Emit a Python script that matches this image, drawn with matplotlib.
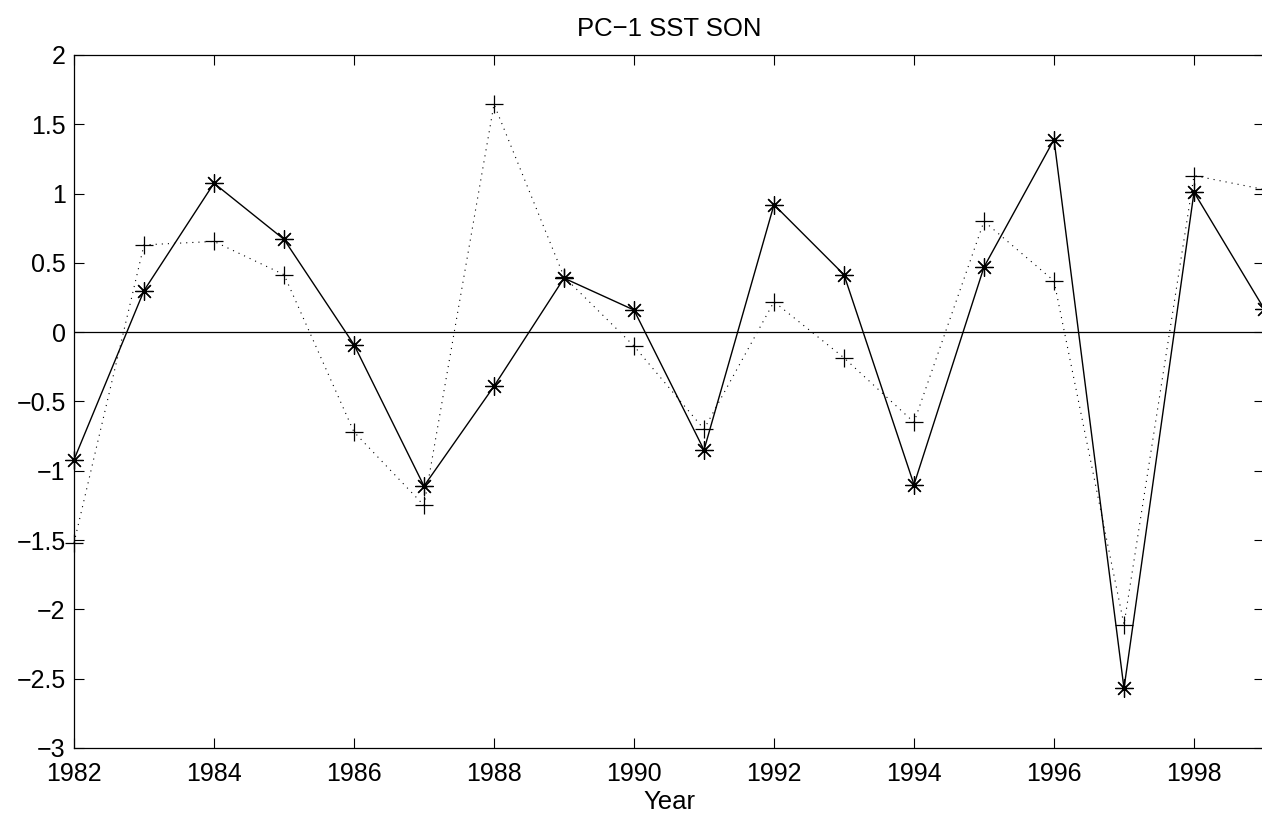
import matplotlib
matplotlib.use("Agg")
import matplotlib.pyplot as plt
import numpy as np

plt.rcParams['font.family'] = ['Liberation Sans', 'DejaVu Sans']

# values
years = np.arange(1982, 2000)
pc_solid = [-0.92, 0.30, 1.075, 0.67, -0.09, -1.11, -0.39, 0.39, 0.16,
            -0.85, 0.92, 0.415, -1.10, 0.47, 1.39, -2.57, 1.01, 0.17]
pc_dotted = [-1.52, 0.63, 0.655, 0.415, -0.72, -1.25, 1.645, 0.40, -0.10,
             -0.70, 0.22, -0.185, -0.65, 0.80, 0.37, -2.11, 1.13, 1.03]

xticks = [1982, 1984, 1986, 1988, 1990, 1992, 1994, 1996, 1998]
yticks = [2, 1.5, 1, 0.5, 0, -0.5, -1, -1.5, -2, -2.5, -3]
ytick_labels = ['2', '1.5', '1', '0.5', '0', '\u22120.5', '\u22121', '\u22121.5',
                '\u22122', '\u22122.5', '\u22123']

fig = plt.figure(figsize=(12.62, 8.19), dpi=100)
ax = fig.add_axes([74 / 1262, 71 / 819, (1264 - 74) / 1262, (748 - 55) / 819])

asterisk = (8, 2, 0)
ax.plot(years, pc_solid, '-', color='k', lw=1.0, marker=asterisk,
        markersize=13, markeredgewidth=0.9, clip_on=False)
ax.plot(years, pc_dotted, color='k', lw=0.8, ls=(0, (1, 4.5)), marker='+',
        markersize=13, markeredgewidth=0.9, clip_on=False)
ax.axhline(0, color='k', lw=0.9)

ax.set_xlim(1982, 1999)
ax.set_ylim(-3, 2)
ax.set_xticks(xticks)
ax.set_xticklabels([str(y) for y in xticks])
ax.set_yticks(yticks)
ax.set_yticklabels(ytick_labels)
ax.tick_params(direction='in', length=7, width=0.8, labelsize=18,
               top=True, right=True)
ax.tick_params(axis='y', pad=6)
ax.tick_params(axis='x', pad=10)
for s in ax.spines.values():
    s.set_linewidth(0.9)

ax.set_title('PC\u22121 SST SON', fontsize=18.5, pad=14)
ax.set_xlabel('Year', fontsize=18.5, labelpad=3)

fig.savefig('out.png', dpi=100)
